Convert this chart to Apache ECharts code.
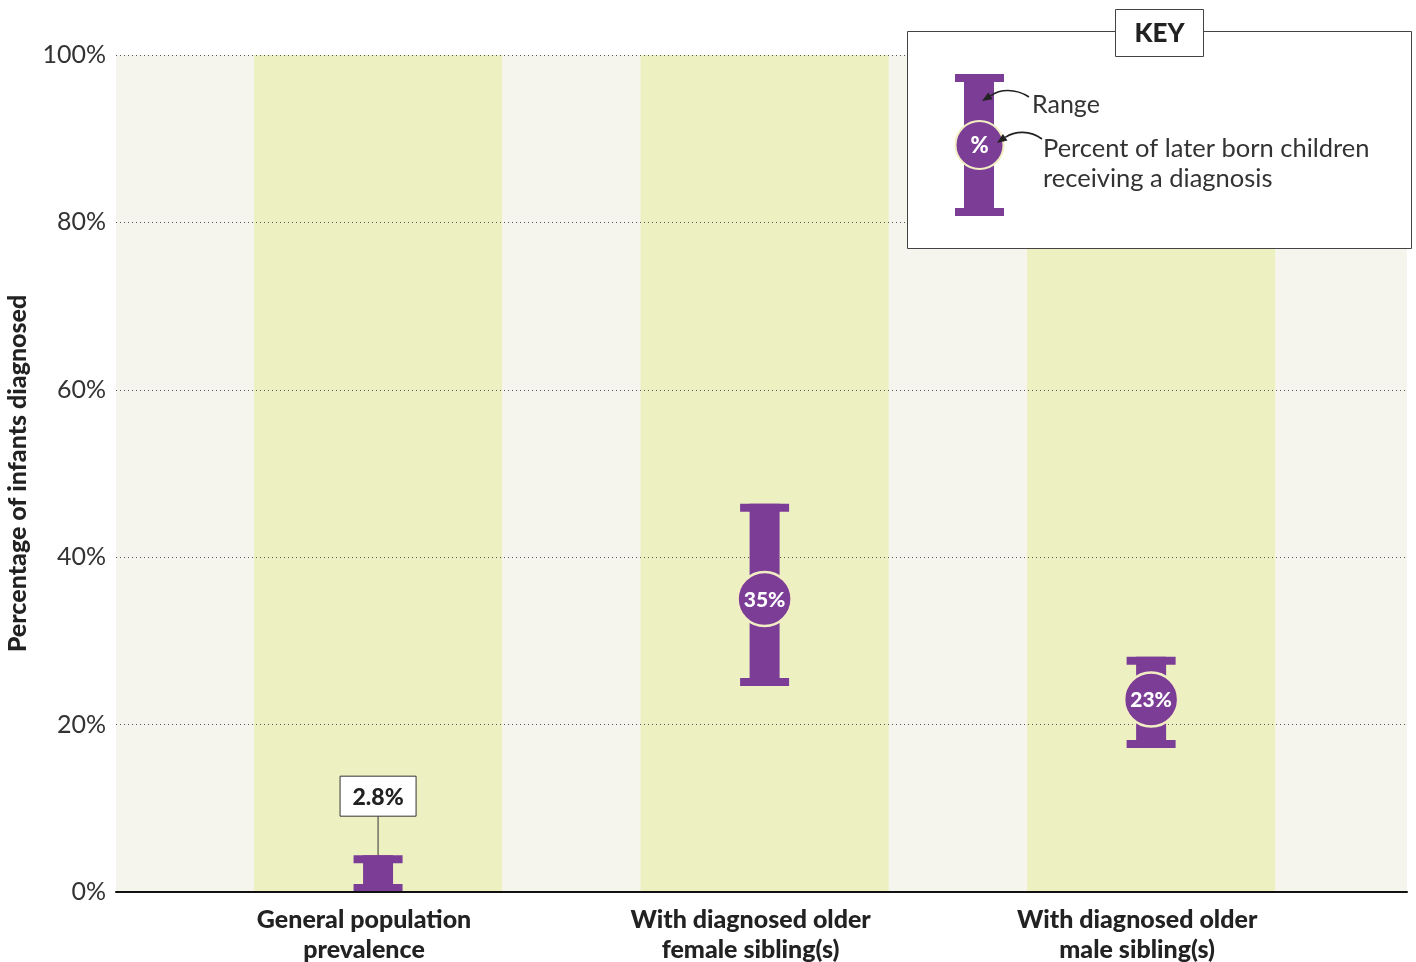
<!DOCTYPE html>
<html>
<head>
<meta charset="utf-8">
<script src="https://cdn.jsdelivr.net/npm/echarts@6/dist/echarts.min.js"></script>
<style>
  html, body { margin: 0; padding: 0; background: #fff; }
  #chart { width: 1416px; height: 962px; }
</style>
</head>
<body>
<div id="chart"></div>
<script>
// data
var categories = ['General population\nprevalence', 'With diagnosed older\nfemale sibling(s)', 'With diagnosed older\nmale sibling(s)']
var rangeLow = [0, 24.6, 17.2]
var rangeHigh = [4.4, 46.4, 28.1]
var percent = [2.8, 35, 23]
var yTicks = [0, 20, 40, 60, 80, 100]

var purple = '#7b3d96'
var font = 'Lato, "Noto Sans", sans-serif'

var chart = echarts.init(document.getElementById('chart'))

var seriesData = categories.map(function (c, i) {
  return [i, rangeLow[i], rangeHigh[i], percent[i]]
})

// column bands + beige background
var bandAreas = [[{ xAxis: -0.678, yAxis: 0, itemStyle: { color: '#f5f5ee' } }, { xAxis: 2.662, yAxis: 100 }]]
categories.forEach(function (c, i) {
  bandAreas.push([{ xAxis: i - 0.321, yAxis: 0, itemStyle: { color: '#edf1c2' } }, { xAxis: i + 0.321, yAxis: 100 }])
})

function renderBar(params, api) {
  var top = api.coord([api.value(0), api.value(2)])
  var bot = api.coord([api.value(0), api.value(1)])
  var mid = api.coord([api.value(0), api.value(3)])
  var cx = top[0]
  var kids = [
    { type: 'rect', shape: { x: cx - 15, y: top[1], width: 30, height: bot[1] - top[1] }, style: { fill: purple } },
    { type: 'rect', shape: { x: cx - 24.5, y: top[1], width: 49, height: 8 }, style: { fill: purple } },
    { type: 'rect', shape: { x: cx - 24.5, y: bot[1] - 8, width: 49, height: 8 }, style: { fill: purple } }
  ]
  var txt = api.value(3) + '%'
  if (params.dataIndex === 0) {
    kids.push({ type: 'line', shape: { x1: cx, y1: top[1] - 39, x2: cx, y2: top[1] }, style: { stroke: '#333', lineWidth: 1 } })
    kids.push({ type: 'rect', shape: { x: cx - 38, y: top[1] - 79, width: 76, height: 40 }, style: { fill: '#fff', stroke: '#333', lineWidth: 1 } })
    kids.push({ type: 'text', x: cx, y: top[1] - 58, style: { text: txt, fill: '#222', font: '900 23px ' + font, align: 'center', verticalAlign: 'middle' } })
  } else {
    kids.push({ type: 'circle', shape: { cx: cx, cy: mid[1], r: 27 }, style: { fill: purple, stroke: '#f2eec4', lineWidth: 2.5 } })
    kids.push({ type: 'text', x: cx, y: mid[1] + 1, style: { text: txt, fill: '#fff', font: '900 21px ' + font, align: 'center', verticalAlign: 'middle' } })
  }
  return { type: 'group', children: kids }
}

var option = {
  animation: false,
  grid: { left: 116, right: 9, top: 55, bottom: 70, outerBoundsMode: 'none', containLabel: false },
  xAxis: {
    type: 'value',
    min: -0.678,
    max: 2.662,
    z: 4,
    axisLine: { show: true, onZero: false, lineStyle: { color: '#111', width: 2 } },
    axisTick: { show: false },
    splitLine: { show: false },
    axisLabel: {
      customValues: [0, 1, 2],
      formatter: function (v) { return categories[Math.round(v)] },
      margin: 13,
      padding: [0, 28, 0, 0],
      color: '#222',
      fontFamily: font,
      fontWeight: 900,
      fontSize: 25,
      lineHeight: 30
    }
  },
  yAxis: {
    type: 'value',
    min: 0,
    max: 100,
    interval: 20,
    z: 2,
    name: 'Percentage of infants diagnosed',
    nameLocation: 'middle',
    nameGap: 86,
    nameTextStyle: { color: '#222', fontFamily: font, fontWeight: 900, fontSize: 25 },
    axisLine: { show: false },
    axisTick: { show: false },
    axisLabel: {
      margin: 10,
      color: '#333',
      fontFamily: font,
      fontSize: 25,
      formatter: function (v) { return yTicks.indexOf(v) >= 0 ? v + '%' : '' }
    },
    splitLine: { show: true, lineStyle: { color: '#555', type: [1, 3], width: 1 } }
  },
  series: [
    {
      type: 'custom',
      z: 1,
      silent: true,
      renderItem: function () { return null },
      data: [],
      markArea: { silent: true, data: bandAreas }
    },
    {
      type: 'custom',
      z: 3,
      renderItem: renderBar,
      encode: { x: 0, y: [1, 2, 3] },
      data: seriesData
    }
  ],
  graphic: [
    { type: 'rect', z: 100, shape: { x: 907.5, y: 31.5, width: 504, height: 217 }, style: { fill: '#fff', stroke: '#444', lineWidth: 1 } },
    { type: 'rect', z: 101, shape: { x: 1115.5, y: 9.5, width: 88, height: 47 }, style: { fill: '#fff', stroke: '#444', lineWidth: 1 } },
    { type: 'text', z: 102, x: 1159.5, y: 34, style: { text: 'KEY', fill: '#222', font: '900 26px ' + font, align: 'center', verticalAlign: 'middle' } },
    // key icon
    { type: 'rect', z: 102, shape: { x: 964, y: 74, width: 30, height: 142 }, style: { fill: purple } },
    { type: 'rect', z: 102, shape: { x: 955, y: 74, width: 49, height: 8 }, style: { fill: purple } },
    { type: 'rect', z: 102, shape: { x: 955, y: 208, width: 49, height: 8 }, style: { fill: purple } },
    { type: 'circle', z: 103, shape: { cx: 979.5, cy: 145, r: 24 }, style: { fill: purple, stroke: '#f2eec4', lineWidth: 2 } },
    { type: 'text', z: 104, x: 979.5, y: 146, style: { text: '%', fill: '#fff', font: '900 22px ' + font, align: 'center', verticalAlign: 'middle' } },
    // arrows
    { type: 'bezierCurve', z: 104, shape: { x1: 1029, y1: 97, cpx1: 1015, cpy1: 88, cpx2: 1000, cpy2: 89, x2: 990.5, y2: 95.8 }, style: { stroke: '#222', lineWidth: 1.6, fill: null } },
    { type: 'polygon', z: 104, shape: { points: [[982, 101], [992.6, 99.2], [988.4, 92.4]] }, style: { fill: '#222' } },
    { type: 'bezierCurve', z: 104, shape: { x1: 1042, y1: 139, cpx1: 1030, cpy1: 130, cpx2: 1015, cpy2: 131, x2: 1005.2, y2: 137.3 }, style: { stroke: '#222', lineWidth: 1.6, fill: null } },
    { type: 'polygon', z: 104, shape: { points: [[997, 143], [1007.5, 140.6], [1002.9, 134]] }, style: { fill: '#222' } },
    { type: 'text', z: 104, x: 1032, y: 105, style: { text: 'Range', fill: '#333', font: '25px ' + font, verticalAlign: 'middle' } },
    { type: 'text', z: 104, x: 1043, y: 134, style: { text: 'Percent of later born children\nreceiving a diagnosis', fill: '#333', font: '25.5px ' + font, lineHeight: 30, verticalAlign: 'top' } }
  ]
}

chart.setOption(option)
</script>
</body>
</html>
